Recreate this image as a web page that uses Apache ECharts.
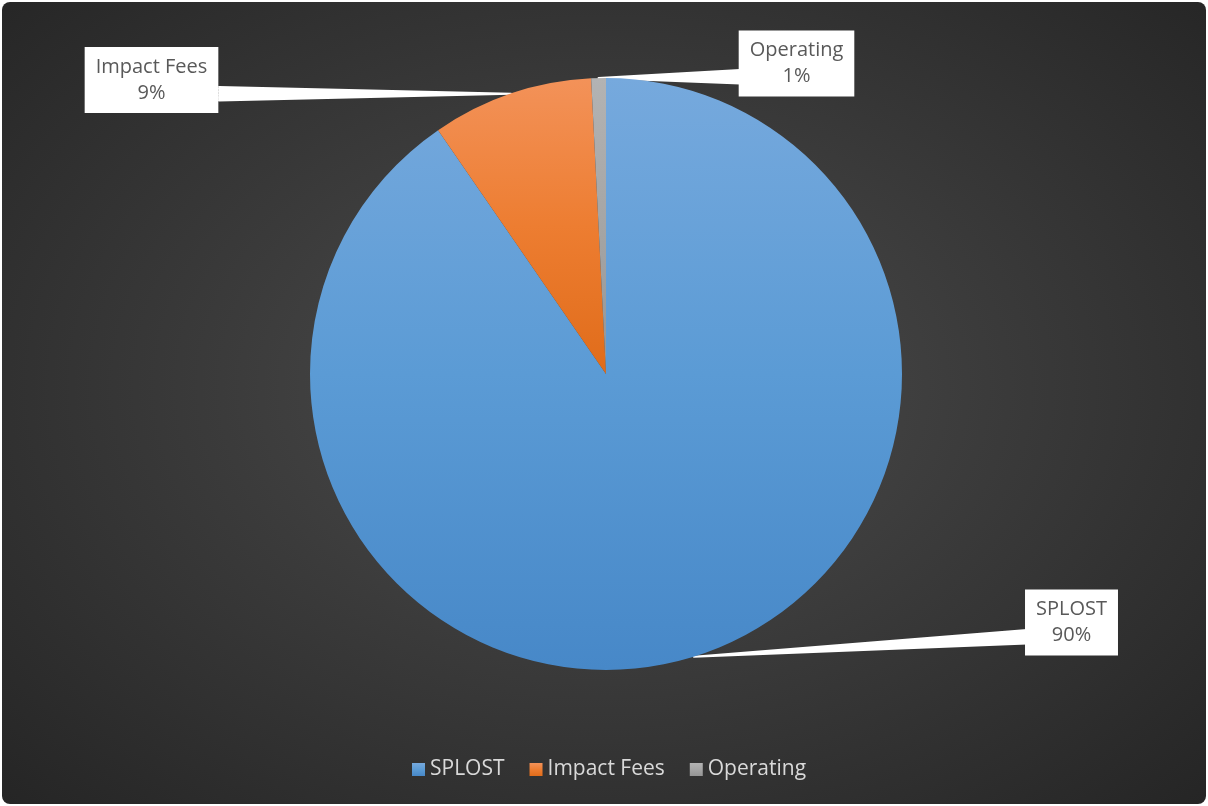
<!DOCTYPE html>
<html>
<head>
<meta charset="utf-8">
<script src="https://cdn.jsdelivr.net/npm/echarts@6/dist/echarts.min.js"></script>
<style>
  html, body { margin: 0; padding: 0; background: #fff; }
  #chart {
    position: absolute; left: 2px; top: 2px; width: 1204px; height: 802px;
    border-radius: 8px; overflow: hidden;
    background: radial-gradient(ellipse farthest-corner at 50% 48%, #4e4e4e 0%, #3b3b3b 45%, #252525 100%);
  }
</style>
</head>
<body>
<div id="chart"></div>
<script>
// data
const categories = ['SPLOST', 'Impact Fees', 'Operating'];
const shares = [90.4, 8.8, 0.8];

// slice gradients: light top, base middle, dark bottom
const sliceColors = [
  ['#76a9dd', '#5b9bd5', '#4788c8'],
  ['#f39259', '#ed7d31', '#e06c1a'],
  ['#b3b3b3', '#a5a5a5', '#959595']
];

// callout boxes (centre) and where the leader wedge meets them
const callouts = [
  { x: 1069.5, y: 620.5, bx: 1025, by: 635 },
  { x: 149.5, y: 78, bx: 217, by: 92 },
  { x: 794.5, y: 61.5, bx: 738, by: 75 }
];

const chart = echarts.init(document.getElementById('chart'));

const grad = c => new echarts.graphic.LinearGradient(0, 0, 0, 1, [
  { offset: 0, color: c[0] },
  { offset: 0.5, color: c[1] },
  { offset: 1, color: c[2] }
]);

chart.setOption({
  backgroundColor: 'transparent',
  textStyle: { fontFamily: 'Open Sans' },
  legend: {
    bottom: 19,
    left: 405,
    icon: 'rect',
    itemWidth: 13,
    itemHeight: 13,
    itemGap: 25,
    textStyle: { color: '#d9d9d9', fontSize: 21, fontFamily: 'Open Sans' },
    data: categories
  },
  series: [{
    type: 'pie',
    center: [604, 372],
    radius: 296,
    startAngle: 90,
    clockwise: true,
    avoidLabelOverlap: false,
    percentPrecision: 0,
    data: categories.map((name, i) => ({
      name,
      value: shares[i],
      itemStyle: { color: grad(sliceColors[i]) }
    })),
    itemStyle: { borderWidth: 0 },
    emphasis: { disabled: true },
    label: {
      show: true,
      position: 'outside',
      formatter: '{b}\n{d}%',
      color: '#595959',
      fontSize: 20,
      fontFamily: 'Open Sans',
      lineHeight: 26,
      align: 'center',
      backgroundColor: '#ffffff',
      padding: [7, 11]
    },
    labelLine: {
      show: true,
      length: 10,
      length2: 10,
      smooth: false,
      lineStyle: { color: '#ffffff', width: 2, cap: 'round', join: 'round' }
    },
    labelLayout: function (params) {
      const c = callouts[params.dataIndex];
      const tip = params.labelLinePoints ? params.labelLinePoints[0] : [c.bx, c.by];
      // fan of strokes from the slice edge to the box = tapered callout
      const pts = [tip];
      for (let k = -7; k <= 7; k += 1.5) {
        pts.push([c.bx, c.by + k]);
        pts.push(tip);
      }
      return {
        x: c.x,
        y: c.y,
        align: 'center',
        verticalAlign: 'middle',
        labelLinePoints: pts
      };
    }
  }]
});
</script>
</body>
</html>
